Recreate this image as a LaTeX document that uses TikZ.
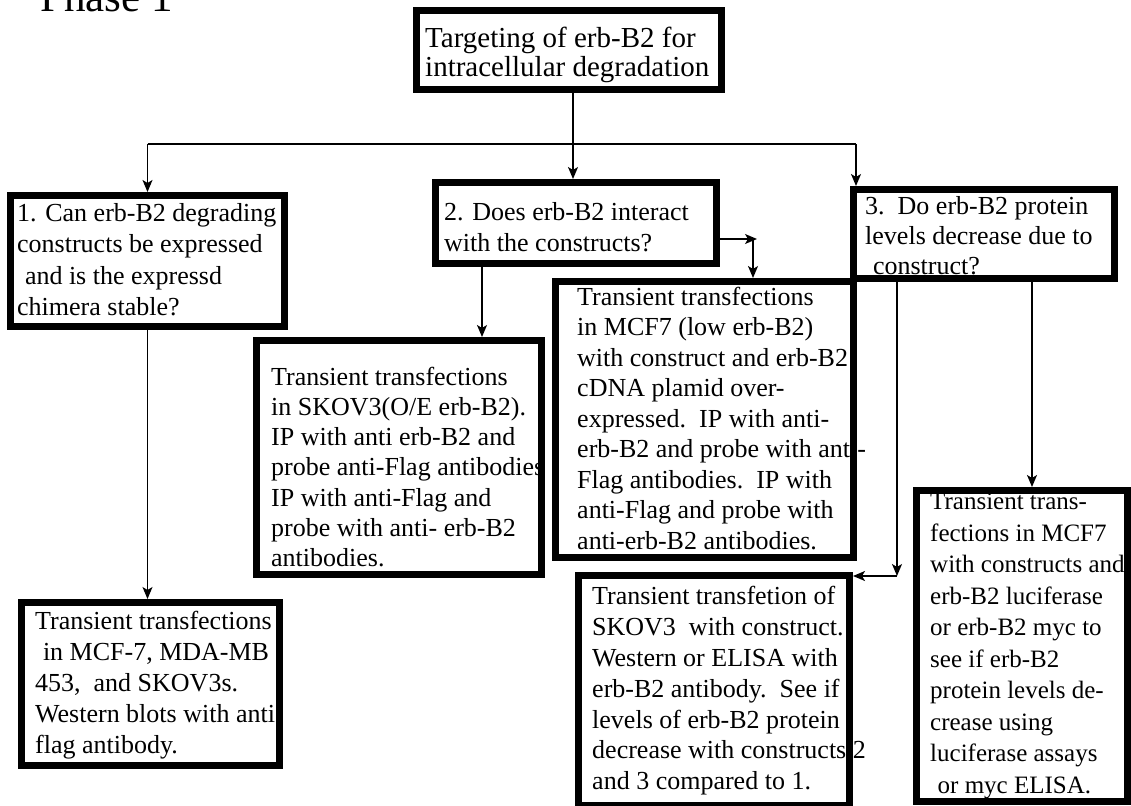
\documentclass[tikz,border=0pt]{standalone}
\usepackage{fontspec}
\setmainfont{Liberation Serif}
\usetikzlibrary{arrows.meta,calc}
\tikzset{
  box/.style={draw, rectangle, line width=7pt, inner sep=0pt, anchor=north west},
  txt/.style={inner sep=0pt, anchor=north west, align=left, font=\fontsize{26}{#1}\selectfont, execute at begin node=\strut},
  txt/.default=30.5,
  conn/.style={line width=1.4pt},
  arr/.style={conn, -{Stealth[length=12pt,width=10pt,inset=3pt]}},
}
\begin{document}
\begin{tikzpicture}[x=1pt,y=-1pt]
\useasboundingbox (0,0) rectangle (1131,805);
\clip (0,0) rectangle (1131,805);
% title
\node[anchor=base west, inner sep=0pt, font=\fontsize{43}{43}\selectfont] (ph) at (40,12) {Phase 1};
% boxes (outer corner, path size)
\node[box, minimum width=305pt, minimum height=79pt] (T) at (413,7) {};
\node[box, minimum width=274pt, minimum height=131pt] (B1) at (7,192) {};
\node[box, minimum width=281pt, minimum height=81pt] (B2) at (432,179) {};
\node[box, minimum width=261pt, minimum height=89pt] (B3) at (850,186) {};
\node[box, minimum width=285pt, minimum height=234pt] (B2a) at (253,337) {};
\node[box, minimum width=298pt, minimum height=276pt] (B4) at (552,278) {};
\node[box, minimum width=258pt, minimum height=163pt] (B1a) at (18,599) {};
\node[box, minimum width=271pt, minimum height=230pt] (B5) at (575,572) {};
\node[box, minimum width=211pt, minimum height=311pt] (B6) at (913,487) {};
% texts
\node[inner sep=0pt, anchor=north west, align=left, font=\fontsize{29}{29}\selectfont, execute at begin node=\strut] (tT) at (425,{47-0.7*29}) {Targeting of erb-B2 for\\intracellular degradation};
\node[txt=31.5] (t1) at (17,{225-0.7*31.5}) {1. Can erb-B2 degrading\\constructs be expressed\\\hspace*{0.3em}and is the expressd\\chimera stable?};
\node[txt=31] (t2) at (444,{224-0.7*31}) {2. Does erb-B2 interact\\with the constructs?};
\node[txt=30] (t3) at (865,{217-0.7*30}) {3.\ \ Do erb-B2 protein\\levels decrease due to\\\hspace*{0.3em}construct?};
\node[txt=30.2] (t2a) at (271,{388-0.7*30.2}) {Transient transfections\\in SKOV3(O/E erb-B2).\\IP with anti erb-B2 and\\probe anti-Flag antibodies\\IP with anti-Flag and\\probe with anti- erb-B2\\antibodies.};
\node[txt=30.5] (t4) at (577,{308-0.7*30.5}) {Transient transfections\\in MCF7 (low erb-B2)\\with construct and erb-B2\\cDNA plamid over-\\expressed.\ \ IP with anti-\\erb-B2 and probe with anti-\\Flag antibodies.\ \ IP with\\anti-Flag and probe with\\anti-erb-B2 antibodies.};
\node[txt=31] (t1a) at (35,{633-0.7*31}) {Transient transfections\\\hspace*{0.3em}in MCF-7, MDA-MB\\453,\ \ and SKOV3s.\\Western blots with anti\\flag antibody.};
\node[txt=30.8] (t5) at (592,{608-0.7*30.8}) {Transient transfetion of\\SKOV3\ \ with construct.\\Western or ELISA with\\erb-B2 antibody.\ \ See if\\levels of erb-B2 protein\\decrease with constructs 2\\and 3 compared to 1.};
\node[txt=31.5, font=\fontsize{25}{31.5}\selectfont] (t6) at (930,{515-0.7*31.5}) {Transient trans-\\fections in MCF7\\with constructs and\\erb-B2 luciferase\\or erb-B2 myc to\\see if erb-B2\\protein levels de-\\crease using\\luciferase assays\\\hspace*{0.3em}or myc ELISA.};
% connectors
\coordinate (hub) at (573,144);
\coordinate (hr) at (856,144);
\draw[conn] (T.south -| hub) -- (hub);
\draw[conn] (B1.north |- hub) -- (hr);
\draw[arr] (B1.north |- hub) -- (B1.north);
\draw[arr] (hub) -- (B2.north -| hub);
\draw[arr] (hr) -- (B3.north -| hr);
\draw[arr] (B1.south) -- (B1.south |- B1a.north);
\coordinate (c2) at (482,300);
\draw[arr] (B2.south -| c2) -- (B2a.north -| c2);
\coordinate (c2r) at (757,239);
\coordinate (c2d) at (753,239);
\draw[arr] (B2.east |- c2r) -- (c2r);
\draw[arr] (c2d) -- (B4.north -| c2d);
\coordinate (c3a) at (897,576);
\coordinate (c3b) at (1032,400);
\draw[arr] (B3.south -| c3a) -- (c3a);
\draw[arr] (c3a) -- (B5.east |- c3a);
\draw[arr] (B3.south -| c3b) -- (B6.north -| c3b);
\end{tikzpicture}
\end{document}
